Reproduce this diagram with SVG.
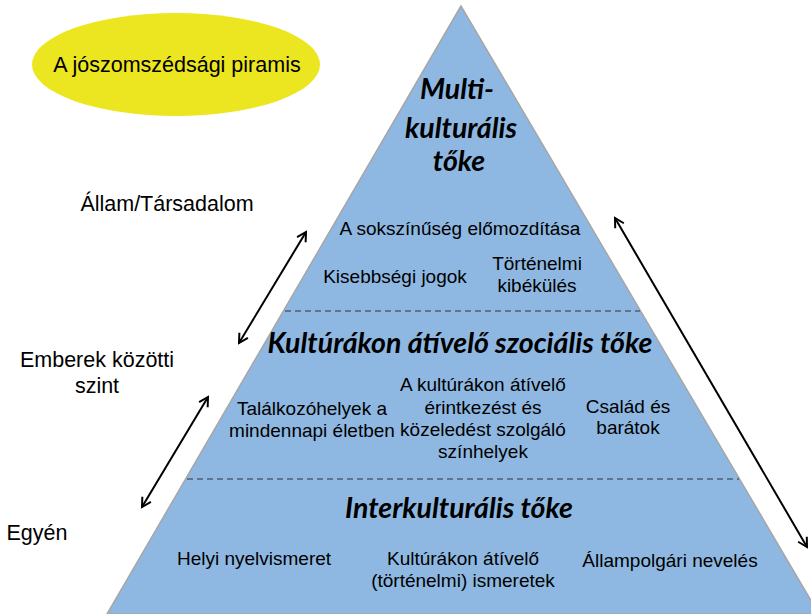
<svg xmlns="http://www.w3.org/2000/svg" width="811" height="614" viewBox="0 0 811 614">
<defs>
<style>
.t{font-family:"Liberation Sans",Arial,sans-serif;font-size:19px;fill:#000;text-anchor:middle}
.l{font-family:"Liberation Sans",Arial,sans-serif;font-size:21.5px;fill:#000;text-anchor:middle}
.h{font-family:Lato,"Open Sans",sans-serif;font-weight:bold;font-style:italic;font-size:28.5px;fill:#000;text-anchor:middle}
.dash{stroke:#333;stroke-width:1.2;stroke-dasharray:6 4;fill:none}
.arr{stroke:#000;stroke-width:2;fill:none;marker-start:url(#ah);marker-end:url(#ah)}
</style>
<marker id="ah" viewBox="0 0 12 12" refX="10" refY="6" markerWidth="12" markerHeight="12" markerUnits="userSpaceOnUse" orient="auto-start-reverse">
<path d="M1,1 L10,6 L1,11" fill="none" stroke="#000" stroke-width="2"/>
</marker>
</defs>
<g id="pyramid">
<polygon points="461,6 107,614 819,614" fill="#8EB8E2" stroke="#A6A6A6" stroke-width="1.5"/>
<line class="dash" x1="285" y1="311" x2="640" y2="311"/>
<line class="dash" x1="187" y1="479" x2="739" y2="479"/>
</g>
<g id="title">
<ellipse cx="176" cy="64.5" rx="144" ry="51.5" fill="#EBE620"/>
<text class="l" x="177" y="72">A jószomszédsági piramis</text>
</g>
<g id="levels">
<text class="l" x="167" y="211">Állam/Társadalom</text>
<text class="l" x="97" y="367">Emberek közötti</text>
<text class="l" x="97" y="393">szint</text>
<text class="l" x="37" y="540">Egyén</text>
</g>
<g id="top">
<text class="h" x="457" y="99">Multi-</text>
<text class="h" x="461" y="138">kulturális</text>
<text class="h" x="459" y="171">tőke</text>
<text class="t" x="460" y="235">A sokszínűség előmozdítása</text>
<text class="t" x="395" y="283">Kisebbségi jogok</text>
<text class="t" x="537" y="270">Történelmi</text>
<text class="t" x="537" y="292">kibékülés</text>
</g>
<g id="middle">
<text class="h" x="460" y="353">Kultúrákon átívelő szociális tőke</text>
<text class="t" x="312" y="415">Találkozóhelyek a</text>
<text class="t" x="312" y="437">mindennapi életben</text>
<text class="t" x="483" y="391">A kultúrákon átívelő</text>
<text class="t" x="483" y="414">érintkezést és</text>
<text class="t" x="483" y="436">közeledést szolgáló</text>
<text class="t" x="483" y="458">színhelyek</text>
<text class="t" x="628" y="413">Család és</text>
<text class="t" x="628" y="434">barátok</text>
</g>
<g id="bottom">
<text class="h" x="459" y="518">Interkulturális tőke</text>
<text class="t" x="254" y="565">Helyi nyelvismeret</text>
<text class="t" x="463" y="565">Kultúrákon átívelő</text>
<text class="t" x="463" y="587">(történelmi) ismeretek</text>
<text class="t" x="670" y="567">Állampolgári nevelés</text>
</g>
<g id="connectors">
<line class="arr" x1="239" y1="343" x2="306" y2="232"/>
<line class="arr" x1="142" y1="507" x2="208" y2="397"/>
<line class="arr" x1="615" y1="218" x2="807" y2="547"/>
</g>
</svg>
